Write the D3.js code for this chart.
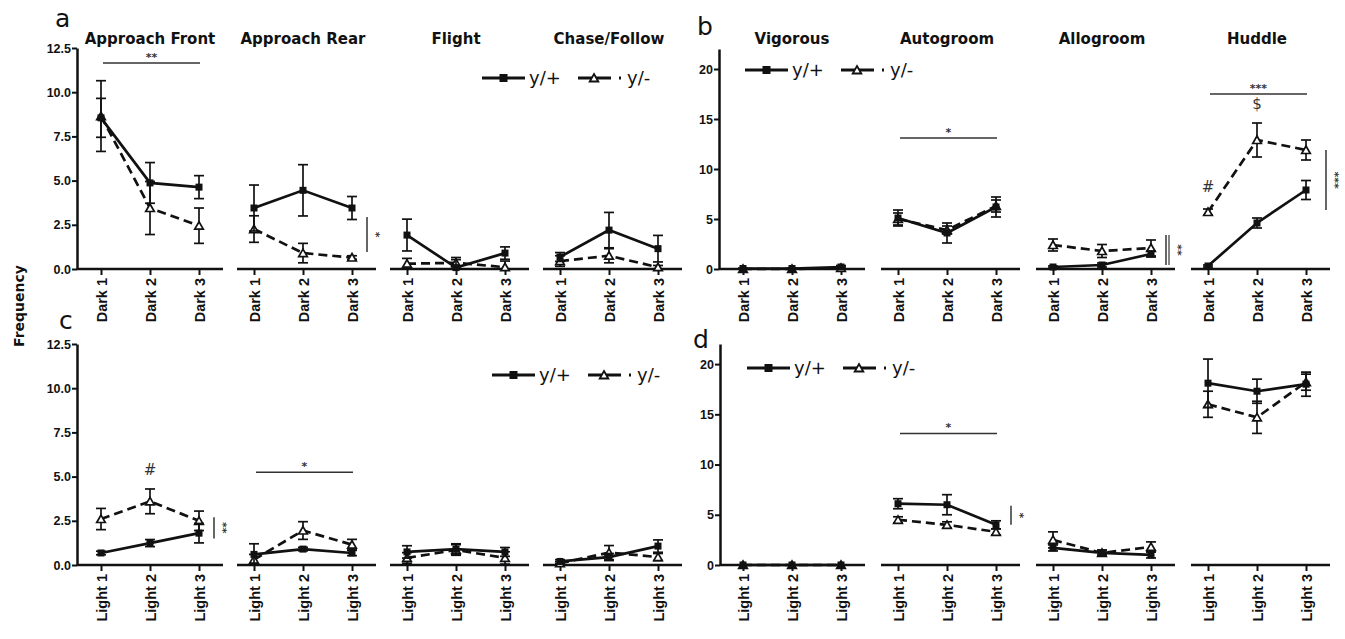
<!DOCTYPE html>
<html>
<head>
<meta charset="utf-8">
<script src="https://cdn.jsdelivr.net/npm/d3@7"></script>
<style>
  body { margin: 0; background: #fff; }
  svg { display: block; font-family: "DejaVu Sans", sans-serif; }
  .axis text { font-weight: bold; fill: #111; }
  .axis line { stroke: #111; stroke-width: 2; }
  .axis .domain { stroke: #111; stroke-width: 2.5; }
</style>
</head>
<body>
<svg id="chart" width="1345" height="639"></svg>
<script>
// categories
var darkCats = ["Dark 1", "Dark 2", "Dark 3"]
var lightCats = ["Light 1", "Light 2", "Light 3"]
var socialTitles = ["Approach Front", "Approach Rear", "Flight", "Chase/Follow"]
var careTitles = ["Vigorous", "Autogroom", "Allogroom", "Huddle"]
var ticksA = [0, 2.5, 5, 7.5, 10, 12.5]
var ticksB = [0, 5, 10, 15, 20]

// panel a : dark phase, social behaviours (mean, sem)
var aPlusMean  = [[8.55, 4.87, 4.63], [3.45, 4.45, 3.45], [1.92, 0.08, 0.9], [0.68, 2.2, 1.15]]
var aPlusErr   = [[1.1, 1.15, 0.65], [1.3, 1.45, 0.65], [0.9, 0.45, 0.35], [0.25, 1.0, 0.75]]
var aMinusMean = [[8.65, 3.45, 2.45], [2.26, 0.9, 0.65], [0.3, 0.35, 0.1], [0.45, 0.75, 0.1]]
var aMinusErr  = [[2.0, 1.5, 1.0], [0.75, 0.55, 0.1], [0.3, 0.3, 0.35], [0.3, 0.4, 0.1]]

// panel b : dark phase, care behaviours
var bPlusMean  = [[0.05, 0.05, 0.2], [5.1, 3.6, 6.2], [0.2, 0.4, 1.5], [0.3, 4.6, 7.9]]
var bPlusErr   = [[0.05, 0.05, 0.15], [0.8, 1.0, 1.0], [0.1, 0.2, 0.3], [0.1, 0.5, 0.95]]
var bMinusMean = [[0, 0, 0.1], [5.0, 3.9, 6.3], [2.4, 1.8, 2.1], [5.7, 12.9, 11.9]]
var bMinusErr  = [[0, 0, 0.1], [0.6, 0.4, 0.6], [0.6, 0.65, 0.8], [0.3, 1.7, 1.0]]

// panel c : light phase, social behaviours
var cPlusMean  = [[0.68, 1.24, 1.8], [0.6, 0.9, 0.68], [0.74, 0.9, 0.74], [0.2, 0.45, 1.07]]
var cPlusErr   = [[0.1, 0.2, 0.55], [0.6, 0.1, 0.15], [0.35, 0.3, 0.25], [0.1, 0.2, 0.35]]
var cMinusMean = [[2.6, 3.6, 2.5], [0.3, 1.95, 1.15], [0.4, 0.85, 0.4], [0.1, 0.7, 0.45]]
var cMinusErr  = [[0.6, 0.7, 0.55], [0.3, 0.5, 0.3], [0.3, 0.3, 0.35], [0.1, 0.4, 0.2]]

// panel d : light phase, care behaviours
var dPlusMean  = [[0, 0, 0], [6.1, 6.0, 4.0], [1.7, 1.2, 1.0], [18.1, 17.3, 18.0]]
var dPlusErr   = [[0, 0, 0], [0.5, 1.0, 0.4], [0.3, 0.3, 0.3], [2.4, 1.2, 1.2]]
var dMinusMean = [[0, 0, 0], [4.5, 4.0, 3.3], [2.5, 1.2, 1.8], [16.0, 14.7, 18.2]]
var dMinusErr  = [[0, 0, 0], [0.3, 0.3, 0.3], [0.8, 0.2, 0.5], [1.3, 1.6, 0.8]]

// significance marks: h = bar over a subplot, v = bar at right of subplot, t = symbol
var aSig = [{type: "h", sub: 0, v: 11.65, label: "**"}, {type: "v", sub: 1, from: 0.96, to: 2.94, label: "*"}]
var bSig = [{type: "h", sub: 1, v: 13.1, label: "*"}, {type: "v", sub: 2, from: 0.4, to: 3.4, label: "**", dbl: true},
            {type: "h", sub: 3, v: 17.5, label: "***"}, {type: "t", sub: 3, cat: 1, v: 16.0, label: "$"},
            {type: "t", sub: 3, cat: 0, v: 7.7, label: "#"}, {type: "v", sub: 3, from: 5.9, to: 11.9, label: "***"}]
var cSig = [{type: "t", sub: 0, cat: 1, v: 5.1, label: "#"}, {type: "v", sub: 0, from: 1.5, to: 2.7, label: "**"},
            {type: "h", sub: 1, v: 5.25, label: "*"}]
var dSig = [{type: "h", sub: 1, v: 13.1, label: "*"}, {type: "v", sub: 1, from: 4.0, to: 5.9, label: "*"}]

var panels = [
  {letter: "a", lx: 55, ly: 27, axisX: 77, y0: 269, y1: 48, max: 12.5, ticks: ticksA, fmt: d3.format(".1f"),
   first: 101, pitch: 153, cats: darkCats, titles: socialTitles, legend: [482, 78],
   plus: aPlusMean, plusErr: aPlusErr, minus: aMinusMean, minusErr: aMinusErr, sig: aSig},
  {letter: "b", lx: 697, ly: 35, axisX: 719, y0: 269, y1: 49, max: 22, ticks: ticksB, fmt: d3.format("d"),
   first: 743, pitch: 155, cats: darkCats, titles: careTitles, legend: [745, 70],
   plus: bPlusMean, plusErr: bPlusErr, minus: bMinusMean, minusErr: bMinusErr, sig: bSig},
  {letter: "c", lx: 59, ly: 329, axisX: 77, y0: 565, y1: 344, max: 12.5, ticks: ticksA, fmt: d3.format(".1f"),
   first: 101, pitch: 153, cats: lightCats, titles: null, legend: [492, 375],
   plus: cPlusMean, plusErr: cPlusErr, minus: cMinusMean, minusErr: cMinusErr, sig: cSig},
  {letter: "d", lx: 693, ly: 348, axisX: 720, y0: 565, y1: 344, max: 22, ticks: ticksB, fmt: d3.format("d"),
   first: 743, pitch: 155, cats: lightCats, titles: null, legend: [747, 368],
   plus: dPlusMean, plusErr: dPlusErr, minus: dMinusMean, minusErr: dMinusErr, sig: dSig}
]

var svg = d3.select("#chart")
var tri = d3.symbol().type(d3.symbolTriangle).size(32)

function drawSeries(g, x, y, means, errs, dashed){
  var pts = x.domain().map(function(c, j){ return {c: c, v: means[j], e: errs[j]} })

  var eb = g.append("g")
  pts.forEach(function(d){
    if(d.e <= 0) return
    var lo = y(Math.max(0, d.v - d.e)), hi = y(d.v + d.e), cx = x(d.c)
    eb.append("line").attr("x1", cx).attr("x2", cx).attr("y1", lo).attr("y2", hi)
    eb.append("line").attr("x1", cx - 5).attr("x2", cx + 5).attr("y1", hi).attr("y2", hi)
    eb.append("line").attr("x1", cx - 5).attr("x2", cx + 5).attr("y1", lo).attr("y2", lo)
  })
  eb.selectAll("line").attr("stroke", "#111").attr("stroke-width", 1.7)

  var line = d3.line().x(function(d){ return x(d.c) }).y(function(d){ return y(d.v) })
  g.append("path").datum(pts)
    .attr("d", line)
    .attr("fill", "none")
    .attr("stroke", "#111")
    .attr("stroke-width", 2.7)
    .attr("stroke-dasharray", dashed ? "9,5" : null)

  if(dashed){
    g.selectAll(null).data(pts).enter().append("path")
      .attr("d", tri)
      .attr("transform", function(d){ return "translate(" + x(d.c) + "," + (y(d.v) + 1) + ")" })
      .attr("fill", "#fff").attr("stroke", "#111").attr("stroke-width", 1.7)
  } else {
    g.selectAll(null).data(pts).enter().append("rect")
      .attr("x", function(d){ return x(d.c) - 3.5 })
      .attr("y", function(d){ return y(d.v) - 3.5 })
      .attr("width", 7).attr("height", 7)
      .attr("fill", "#111")
  }
}

function drawPanel(p){
  var g = svg.append("g")
  var y = d3.scaleLinear().domain([0, p.max]).range([p.y0, p.y1])

  g.append("text").attr("x", p.lx).attr("y", p.ly)
    .attr("font-size", 25).attr("fill", "#111").text(p.letter)

  var yAxis = d3.axisLeft(y).tickValues(p.ticks).tickFormat(p.fmt).tickSize(5).tickSizeOuter(0).tickPadding(1)
  g.append("g").attr("class", "axis")
    .attr("transform", "translate(" + p.axisX + ",0)")
    .call(yAxis)
    .selectAll("text").attr("font-size", 12.5)

  var subs = []
  for(var i = 0; i < 4; i++){
    var left = p.first + i * p.pitch
    var x = d3.scalePoint().domain(p.cats).range([left, left + 98])
    subs.push(x)
    var sg = g.append("g")

    // baseline
    sg.append("line")
      .attr("x1", i == 0 ? p.axisX : left - 17).attr("x2", left + 98 + 24)
      .attr("y1", p.y0).attr("y2", p.y0)
      .attr("stroke", "#111").attr("stroke-width", 2.5)

    var xAxis = d3.axisBottom(x).tickSize(6).tickSizeOuter(0)
    var xa = sg.append("g").attr("class", "axis")
      .attr("transform", "translate(0," + p.y0 + ")")
      .call(xAxis)
    xa.select(".domain").remove()
    xa.selectAll("text")
      .attr("font-size", 14.5)
      .attr("transform", "rotate(-90)")
      .attr("text-anchor", "end")
      .attr("x", -9).attr("y", 0).attr("dy", "0.36em")

    if(p.titles){
      sg.append("text")
        .attr("x", x(p.cats[1])).attr("y", 44)
        .attr("text-anchor", "middle")
        .attr("font-size", 15).attr("font-weight", "bold").attr("fill", "#111")
        .text(p.titles[i])
    }

    drawSeries(sg, x, y, p.minus[i], p.minusErr[i], true)
    drawSeries(sg, x, y, p.plus[i], p.plusErr[i], false)
  }

  // significance marks
  p.sig.forEach(function(s){
    var x = subs[s.sub]
    if(s.type == "h"){
      var x1 = x(p.cats[0]) + 2, x2 = x(p.cats[2]) + 1
      g.append("line").attr("x1", x1).attr("x2", x2).attr("y1", y(s.v)).attr("y2", y(s.v))
        .attr("stroke", "#333").attr("stroke-width", 1.5)
      g.append("text").attr("x", (x1 + x2) / 2).attr("y", y(s.v) - 2)
        .attr("text-anchor", "middle").attr("font-size", 11).attr("font-weight", "bold").attr("fill", "#333")
        .text(s.label)
    } else if(s.type == "v"){
      var vx = x(p.cats[2]) + (s.sub == 3 ? 20 : 15)
      g.append("line").attr("x1", vx).attr("x2", vx).attr("y1", y(s.from)).attr("y2", y(s.to))
        .attr("stroke", "#333").attr("stroke-width", 1.5)
      if(s.dbl){
        g.append("line").attr("x1", vx + 3).attr("x2", vx + 3).attr("y1", y(s.from)).attr("y2", y(s.to))
          .attr("stroke", "#333").attr("stroke-width", 1.2)
      }
      var my = (y(s.from) + y(s.to)) / 2
      g.append("text")
        .attr("transform", "translate(" + (vx + (s.dbl ? 8 : 5)) + "," + my + ") rotate(90)")
        .attr("text-anchor", "middle").attr("font-size", 11).attr("font-weight", "bold").attr("fill", "#333")
        .text(s.label)
    } else {
      g.append("text").attr("x", x(p.cats[s.cat])).attr("y", y(s.v))
        .attr("text-anchor", "middle").attr("font-size", 15).attr("fill", "#333")
        .text(s.label)
    }
  })

  // legend
  var lg = g.append("g").attr("transform", "translate(" + p.legend[0] + "," + p.legend[1] + ")")
  lg.append("line").attr("x1", 0).attr("x2", 43).attr("y1", 0).attr("y2", 0)
    .attr("stroke", "#111").attr("stroke-width", 3)
  lg.append("rect").attr("x", 17.5).attr("y", -4).attr("width", 8).attr("height", 8).attr("fill", "#111")
  lg.append("text").attr("x", 47).attr("y", 6).attr("font-size", 18).attr("fill", "#111").text("y/+")
  lg.append("line").attr("x1", 96).attr("x2", 141).attr("y1", 0).attr("y2", 0)
    .attr("stroke", "#111").attr("stroke-width", 3).attr("stroke-dasharray", "33,8,2,10")
  lg.append("path").attr("d", tri).attr("transform", "translate(112,1)")
    .attr("fill", "#fff").attr("stroke", "#111").attr("stroke-width", 1.8)
  lg.append("text").attr("x", 145).attr("y", 6).attr("font-size", 18).attr("fill", "#111").text("y/-")
}

panels.forEach(drawPanel)

svg.append("text")
  .attr("transform", "translate(24,306) rotate(-90)")
  .attr("text-anchor", "middle")
  .attr("font-size", 14).attr("font-weight", "bold").attr("fill", "#111")
  .text("Frequency")
</script>
</body>
</html>
